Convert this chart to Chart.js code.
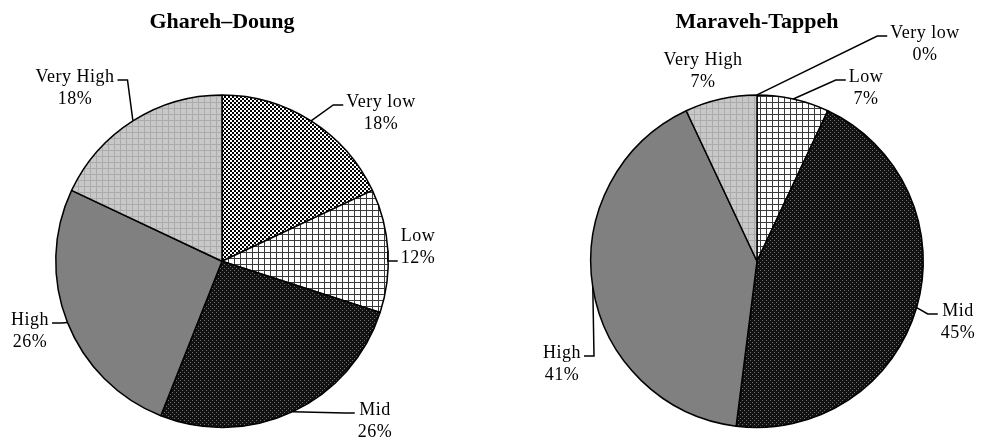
<!DOCTYPE html>
<html>
<head>
<meta charset="utf-8">
<title>Ghareh–Doung / Maraveh-Tappeh</title>
<script src="https://cdn.jsdelivr.net/npm/chart.js@4.4.1/dist/chart.umd.min.js"></script>
<style>
  html, body { margin: 0; padding: 0; background: #fff; }
  #wrap { display: flex; width: 981px; height: 441px; }
  canvas { display: block; }
</style>
</head>
<body>
<div id="wrap">
  <canvas id="chartLeft" width="490" height="441"></canvas>
  <canvas id="chartRight" width="491" height="441"></canvas>
</div>
<script>
// Categories and values (percent)
const classes = ["Very low", "Low", "Mid", "High", "Very High"];
const gharehDoung = [18, 12, 26, 26, 18];
const maravehTappeh = [0, 7, 45, 41, 7];
const titles = ["Ghareh–Doung", "Maraveh-Tappeh"];

// Label placement: [centre x, first line y, line the leader joins (null = none)]
const leftLabelPos = [[381, 102, 0], [418, 236, 1], [375, 410, 0], [30, 320, 0], [75, 77, 0]];
const rightLabelPos = [[435, 33, 0], [376, 77, 0], [468, 311, 0], [72, 353, 0], [213, 60, null]];

const FONT = "'Liberation Serif', 'Times New Roman', serif";

/**
 * Build a small repeating tile and turn it into a CanvasPattern.
 */
function makePattern(size, draw) {
  const tile = document.createElement("canvas");
  tile.width = size;
  tile.height = size;
  const t = tile.getContext("2d");
  draw(t, size);
  return document.createElement("canvas").getContext("2d").createPattern(tile, "repeat");
}

// Fills that imitate the hatching of the original
const fills = [
  // Very low: small checkerboard
  makePattern(4, (t) => {
    t.fillStyle = "#fff"; t.fillRect(0, 0, 4, 4);
    t.fillStyle = "#000"; t.fillRect(0, 0, 2, 2); t.fillRect(2, 2, 2, 2);
  }),
  // Low: white with a grid
  makePattern(6, (t) => {
    t.fillStyle = "#fff"; t.fillRect(0, 0, 6, 6);
    t.fillStyle = "#3a3a3a"; t.fillRect(0, 0, 6, 1); t.fillRect(0, 0, 1, 6);
  }),
  // Mid: dark with light dots
  makePattern(4, (t) => {
    t.fillStyle = "#111"; t.fillRect(0, 0, 4, 4);
    t.fillStyle = "#707070"; t.fillRect(0, 0, 1, 1); t.fillRect(2, 2, 1, 1);
  }),
  // High: plain grey
  "#808080",
  // Very High: light grey fine grid
  makePattern(6, (t) => {
    t.fillStyle = "#c8c8c8"; t.fillRect(0, 0, 6, 6);
    t.fillStyle = "#ababab"; t.fillRect(0, 0, 6, 1); t.fillRect(0, 0, 1, 6);
  }),
];

// Draws the two-line labels and their leader lines
const pieLabels = {
  id: "pieLabels",
  afterDatasetsDraw(chart, args, opts) {
    const ctx = chart.ctx;
    const arcs = chart.getDatasetMeta(0).data;
    const values = chart.data.datasets[0].data;
    const lineH = 22;
    ctx.save();
    ctx.font = "18px " + FONT;
    ctx.letterSpacing = "0.5px";
    ctx.textAlign = "center";
    ctx.textBaseline = "middle";
    ctx.fillStyle = "#000";
    ctx.strokeStyle = "#000";
    ctx.lineWidth = 1.5;

    arcs.forEach((arc, i) => {
      const [cx, cy, joinLine] = opts.positions[i];
      const lines = [chart.data.labels[i], values[i] + "%"];
      const w = Math.max(...lines.map(s => ctx.measureText(s).width));

      if (joinLine !== null) {
        const mid = (arc.startAngle + arc.endAngle) / 2;
        const ex = arc.x + arc.outerRadius * Math.cos(mid);
        const ey = arc.y + arc.outerRadius * Math.sin(mid);
        const toRight = cx > arc.x;
        const tipX = toRight ? cx - w / 2 - 3 : cx + w / 2 + 3;
        const tipY = cy + joinLine * lineH + 3;
        const elbowX = toRight ? tipX - 10 : tipX + 10;
        ctx.beginPath();
        ctx.moveTo(ex, ey);
        ctx.lineTo(elbowX, tipY);
        ctx.lineTo(tipX, tipY);
        ctx.stroke();
      }

      lines.forEach((s, k) => ctx.fillText(s, cx, cy + k * lineH));
    });
    ctx.restore();
  },
};

/**
 * Create one pie chart.
 */
function makePie(canvasId, title, values, positions, padLeft, padRight) {
  const ctx = document.getElementById(canvasId).getContext("2d");
  return new Chart(ctx, {
    type: "pie",
    data: {
      labels: classes,
      datasets: [{
        data: values,
        backgroundColor: fills,
        borderColor: "#000",
        borderWidth: 1.5,
      }],
    },
    options: {
      responsive: false,
      animation: false,
      layout: { padding: { top: 0, bottom: 12, left: padLeft, right: padRight } },
      plugins: {
        legend: { display: false },
        tooltip: { enabled: false },
        title: {
          display: true,
          text: title,
          color: "#000",
          font: { family: FONT, size: 22, weight: "bold" },
          padding: { top: 9, bottom: 58 },
        },
        pieLabels: { positions: positions },
      },
    },
    plugins: [pieLabels],
  });
}

makePie("chartLeft", titles[0], gharehDoung, leftLabelPos, 55, 101);
makePie("chartRight", titles[1], maravehTappeh, rightLabelPos, 100, 57);
</script>
</body>
</html>
